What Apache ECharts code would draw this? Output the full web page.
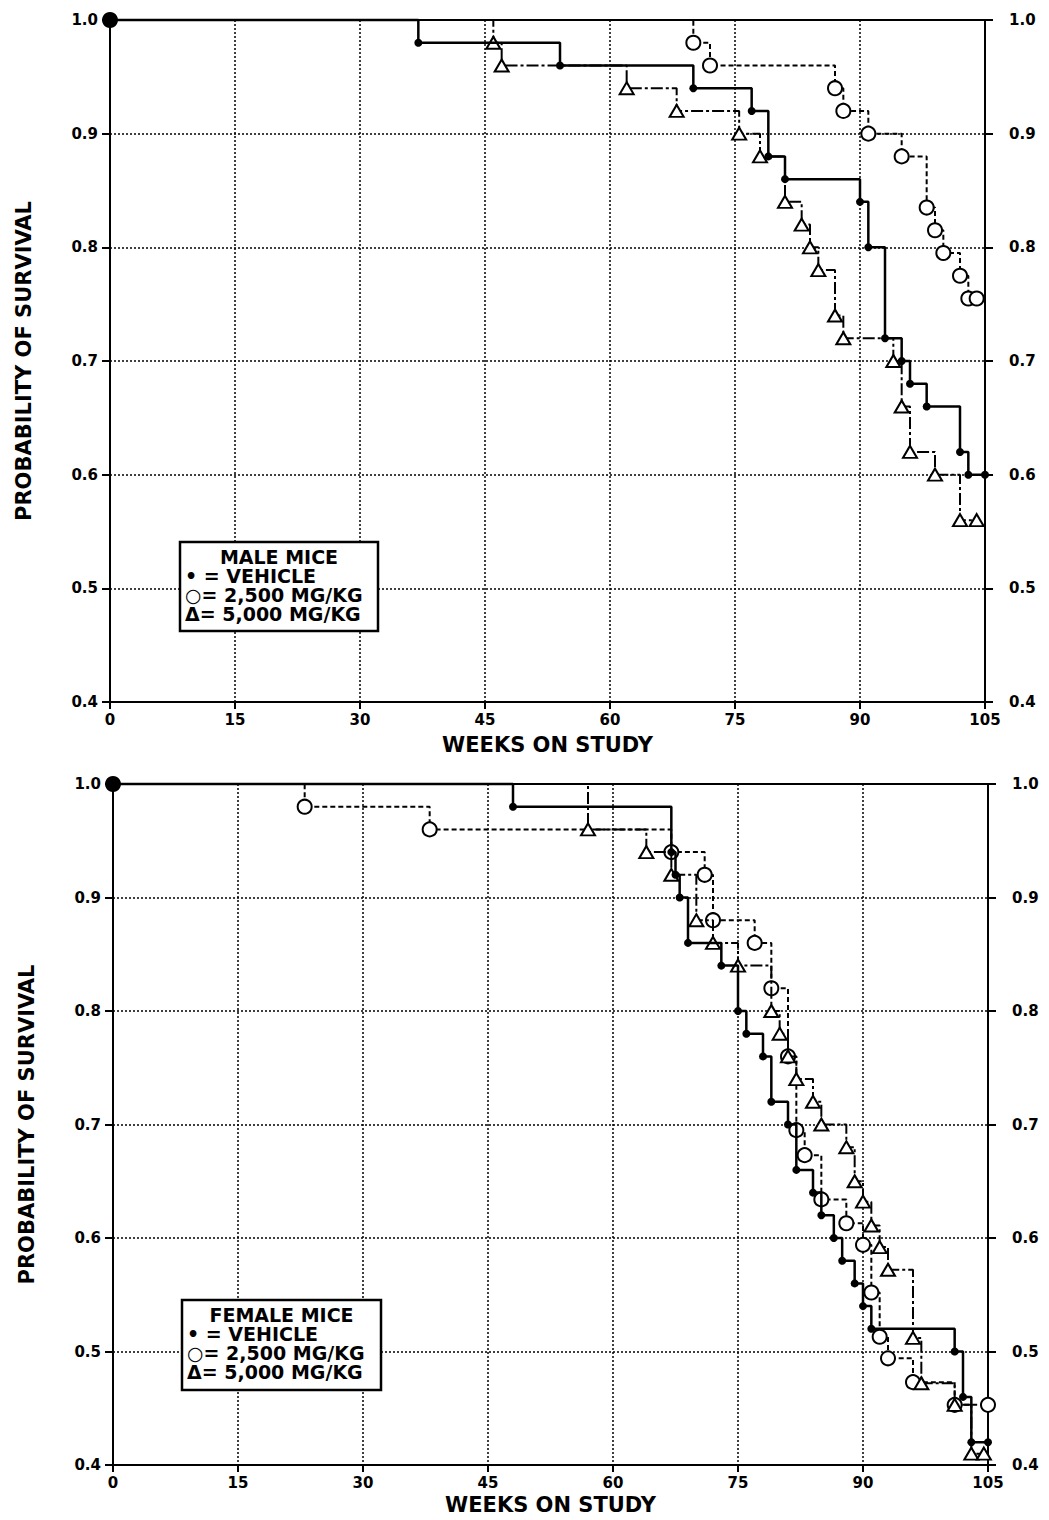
<!DOCTYPE html>
<html>
<head>
<meta charset="utf-8">
<script src="https://cdn.jsdelivr.net/npm/echarts/dist/echarts.min.js"></script>
<style>
  html, body { margin: 0; padding: 0; background: #fff; }
  #survChart { width: 1049px; height: 1520px; }
</style>
</head>
<body>
<div id="survChart"></div>
<script>
// male mice (weeks on study / probability of survival)
const maleVehicleWeeks = [0, 37, 54, 70, 77, 79, 81, 90, 91, 93, 95, 96, 98, 102, 103, 105];
const maleVehicleSurv = [1.0, 0.98, 0.96, 0.94, 0.92, 0.88, 0.86, 0.84, 0.80, 0.72, 0.70, 0.68, 0.66, 0.62, 0.60, 0.60];
const maleLowWeeks = [0, 70, 72, 87, 88, 91, 95, 98, 99, 100, 102, 103, 104];
const maleLowSurv = [1.0, 0.98, 0.96, 0.94, 0.92, 0.90, 0.88, 0.835, 0.815, 0.795, 0.775, 0.755, 0.755];
const maleHighWeeks = [0, 46, 47, 62, 68, 75.5, 78, 81, 83, 84, 85, 87, 88, 94, 95, 96, 99, 102, 104];
const maleHighSurv = [1.0, 0.98, 0.96, 0.94, 0.92, 0.90, 0.88, 0.84, 0.82, 0.80, 0.78, 0.74, 0.72, 0.70, 0.66, 0.62, 0.60, 0.56, 0.56];

// female mice
const femaleVehicleWeeks = [0, 48, 67, 67.5, 68, 69, 73, 75, 76, 78, 79, 81, 82, 84, 85, 86.5, 87.5, 89, 90, 91, 101, 102, 103, 105];
const femaleVehicleSurv = [1.0, 0.98, 0.94, 0.92, 0.90, 0.86, 0.84, 0.80, 0.78, 0.76, 0.72, 0.70, 0.66, 0.64, 0.62, 0.60, 0.58, 0.56, 0.54, 0.52, 0.50, 0.46, 0.42, 0.42];
const femaleLowWeeks = [0, 23, 38, 67, 71, 72, 77, 79, 81, 82, 83, 85, 88, 90, 91, 92, 93, 96, 101, 105];
const femaleLowSurv = [1.0, 0.98, 0.96, 0.94, 0.92, 0.88, 0.86, 0.82, 0.76, 0.695, 0.673, 0.634, 0.613, 0.594, 0.552, 0.513, 0.494, 0.473, 0.453, 0.453];
const femaleHighWeeks = [0, 57, 64, 67, 70, 72, 75, 79, 80, 81, 82, 84, 85, 88, 89, 90, 91, 92, 93, 96, 97, 101, 103, 104.5];
const femaleHighSurv = [1.0, 0.96, 0.94, 0.92, 0.88, 0.86, 0.84, 0.80, 0.78, 0.76, 0.74, 0.72, 0.70, 0.68, 0.65, 0.632, 0.611, 0.592, 0.572, 0.512, 0.472, 0.453, 0.41, 0.41];

const weekTicks = [0, 15, 30, 45, 60, 75, 90, 105];
const seriesNames = ["VEHICLE", "2,500 MG/KG", "5,000 MG/KG"];

const FONT = "DejaVu Sans";

// 首个点(0周)只画一个大黑点
function steps(weeks, surv, startSize) {
  return weeks.map((w, i) => {
    const item = { value: [w, surv[i]] };
    if (i === 0) {
      if (startSize) item.symbolSize = startSize;
      else item.symbol = "none";
    }
    return item;
  });
}

function kmSeries(kind, gridIndex, weeks, surv) {
  const s = {
    name: seriesNames[kind],
    type: "line",
    step: "end",
    xAxisIndex: gridIndex,
    yAxisIndex: gridIndex * 2,
    showAllSymbol: true,
    clip: false,
    animation: false,
    itemStyle: { color: "#000", borderColor: "#000", borderWidth: 2 },
    lineStyle: { color: "#000", width: 2 },
    emphasis: { disabled: true }
  };
  if (kind === 0) {
    s.symbol = "circle";
    s.symbolSize = 8;
    s.itemStyle.borderWidth = 0;
    s.lineStyle.width = 2.5;
    s.data = steps(weeks, surv, 16);
    s.z = 5;
  } else if (kind === 1) {
    s.symbol = "emptyCircle";
    s.symbolSize = 14;
    s.lineStyle.type = [5, 3];
    s.data = steps(weeks, surv, 0);
    s.z = 3;
  } else {
    s.symbol = "emptyTriangle";
    s.symbolSize = [14, 12];
    s.lineStyle.type = [12, 3, 3, 3];
    s.data = steps(weeks, surv, 0);
    s.z = 4;
  }
  return s;
}

function xAxisFor(gridIndex, nameGap) {
  return {
    gridIndex: gridIndex,
    type: "value",
    min: 0,
    max: 105,
    interval: 15,
    name: "WEEKS ON STUDY",
    nameLocation: "middle",
    nameGap: nameGap,
    nameTextStyle: { color: "#000", fontFamily: FONT, fontWeight: "bold", fontSize: 21 },
    axisLine: { show: true, onZero: false, lineStyle: { color: "#000", width: 2 } },
    axisTick: { show: true, length: 7, lineStyle: { color: "#000", width: 2 } },
    axisLabel: {
      color: "#000", fontFamily: FONT, fontWeight: "bold", fontSize: 15, margin: 10,
      customValues: weekTicks
    },
    splitLine: { show: true, lineStyle: { color: "#000", width: 1.5, type: [2, 2] } }
  };
}

function yAxesFor(gridIndex) {
  const base = {
    gridIndex: gridIndex,
    type: "value",
    min: 0.4,
    max: 1.0,
    interval: 0.1,
    axisLine: { show: true, onZero: false, lineStyle: { color: "#000", width: 2 } },
    axisTick: { show: true, length: 8, lineStyle: { color: "#000", width: 2 } },
    axisLabel: {
      color: "#000", fontFamily: FONT, fontWeight: "bold", fontSize: 15,
      formatter: v => v.toFixed(1)
    }
  };
  const left = Object.assign({}, base, {
    position: "left",
    name: "PROBABILITY OF SURVIVAL",
    nameLocation: "middle",
    nameGap: 76,
    nameRotate: 90,
    nameTextStyle: { color: "#000", fontFamily: FONT, fontWeight: "bold", fontSize: 21 },
    axisLabel: Object.assign({}, base.axisLabel, { margin: 12 }),
    splitLine: { show: true, lineStyle: { color: "#000", width: 1.5, type: [2, 2] } }
  });
  const right = Object.assign({}, base, {
    position: "right",
    axisLabel: Object.assign({}, base.axisLabel, { margin: 24 }),
    splitLine: { show: false }
  });
  return [left, right];
}

// 图例框(白底黑框，盖住网格线)
function legendBox(x, y, w, h, title) {
  const lines = ["\u2022 = VEHICLE", "\u25CB= 2,500 MG/KG", "\u0394= 5,000 MG/KG"];
  const children = [
    {
      type: "rect",
      z: 100,
      shape: { x: x, y: y, width: w, height: h },
      style: { fill: "#fff", stroke: "#000", lineWidth: 2.5 }
    },
    {
      type: "text",
      z: 101,
      x: x + w / 2,
      y: y + 15,
      style: {
        text: title, fill: "#000", font: "bold 19px " + FONT,
        align: "center", verticalAlign: "middle"
      }
    }
  ];
  lines.forEach((t, i) => {
    children.push({
      type: "text",
      z: 101,
      x: x + 5,
      y: y + 34 + i * 19,
      style: { text: t, fill: "#000", font: "bold 19px " + FONT, verticalAlign: "middle" }
    });
  });
  return { type: "group", z: 100, children: children };
}

const chart = echarts.init(document.getElementById("survChart"), null, { renderer: "svg" });

const yTop = yAxesFor(0);
const yBottom = yAxesFor(1);

const option = {
  backgroundColor: "#fff",
  animation: false,
  grid: [
    { left: 110, top: 20, width: 875, height: 682, show: true, borderColor: "#000", borderWidth: 2 },
    { left: 113, top: 784, width: 875, height: 681, show: true, borderColor: "#000", borderWidth: 2 }
  ],
  xAxis: [xAxisFor(0, 32), xAxisFor(1, 29)],
  yAxis: [yTop[0], yTop[1], yBottom[0], yBottom[1]],
  series: [
    kmSeries(1, 0, maleLowWeeks, maleLowSurv),
    kmSeries(2, 0, maleHighWeeks, maleHighSurv),
    kmSeries(0, 0, maleVehicleWeeks, maleVehicleSurv),
    kmSeries(1, 1, femaleLowWeeks, femaleLowSurv),
    kmSeries(2, 1, femaleHighWeeks, femaleHighSurv),
    kmSeries(0, 1, femaleVehicleWeeks, femaleVehicleSurv)
  ],
  graphic: [
    legendBox(180, 542, 198, 89, "MALE MICE"),
    legendBox(182, 1300, 199, 90, "FEMALE MICE")
  ]
};

chart.setOption(option);
</script>
</body>
</html>
